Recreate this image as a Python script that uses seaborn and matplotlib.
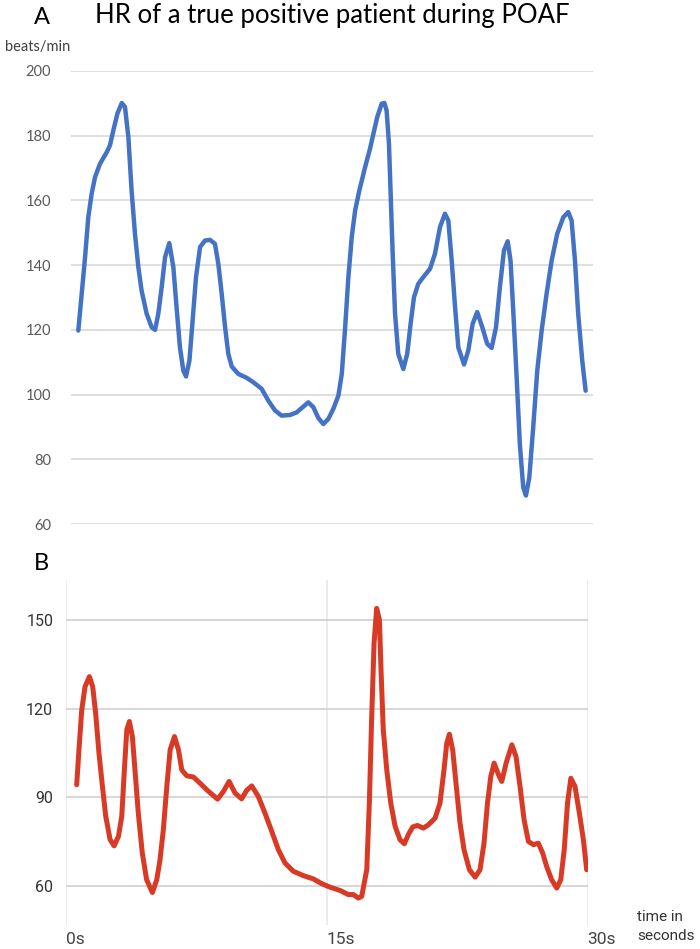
import numpy as np
import pandas as pd
import matplotlib
matplotlib.use("Agg")
import matplotlib.pyplot as plt
import seaborn as sns

# panel A: HR (seconds, beats/min)
a_time = [0.00, 0.20, 0.40, 0.59, 0.79, 0.99, 1.28, 1.68, 1.87, 2.07, 2.31, 2.57, 2.76,
          2.96, 3.15, 3.35, 3.55, 3.74, 4.04, 4.34, 4.54, 4.73, 4.93, 5.13, 5.38, 5.62,
          5.81, 6.01, 6.21, 6.37, 6.57, 6.76, 6.96, 7.20, 7.49, 7.79, 8.08, 8.28, 8.48,
          8.68, 8.87, 9.07, 9.46, 9.95, 10.35, 10.84, 11.24, 11.63, 12.02, 12.52, 12.91,
          13.31, 13.60, 13.90, 14.19, 14.49, 14.79, 15.08, 15.38, 15.58, 15.78, 15.97,
          16.17, 16.37, 16.62, 16.96, 17.25, 17.45, 17.68, 17.94, 18.10, 18.23, 18.37,
          18.47, 18.59, 18.73, 18.92, 19.22, 19.45, 19.65, 19.85, 20.10, 20.40, 20.80,
          21.09, 21.39, 21.68, 21.88, 22.08, 22.28, 22.47, 22.81, 23.06, 23.32, 23.59,
          23.89, 24.18, 24.44, 24.70, 24.93, 25.17, 25.39, 25.56, 25.72, 25.92, 26.11,
          26.31, 26.47, 26.67, 26.90, 27.14, 27.40, 27.69, 27.99, 28.32, 28.68, 28.97,
          29.17, 29.37, 29.56, 29.80, 30.00]
a_hr = [119.8, 131.1, 142.5, 154.8, 162.1, 167.2, 171.3, 174.9, 177.0, 181.6, 186.8, 190.1, 188.9,
        179.6, 163.1, 149.7, 139.4, 132.2, 125.0, 120.8, 120.0, 125.0, 133.2, 142.5, 146.8, 139.4,
        127.0, 114.6, 107.4, 105.6, 110.5, 122.9, 136.3, 145.6, 147.6, 147.8, 146.6, 140.4, 131.1,
        120.8, 112.6, 108.7, 106.4, 105.2, 103.8, 101.8, 98.1, 95.1, 93.5, 93.7, 94.5,
        96.3, 97.6, 96.1, 92.8, 90.9, 92.5, 95.6, 99.7, 106.4, 120.8, 136.3,
        148.7, 156.9, 163.1, 170.3, 176.0, 180.6, 185.8, 189.9, 190.1, 187.8, 177.5,
        162.1, 143.5, 125.0, 112.6, 107.9, 112.6, 121.9, 130.1, 134.2, 136.3, 138.9,
        143.5, 151.8, 155.9, 153.8, 141.4, 127.0, 114.6, 109.3, 113.6, 121.9, 125.5,
        120.8, 115.7, 114.4, 120.8, 133.2, 144.5, 147.4, 141.4, 125.9, 105.4, 84.7,
        71.3, 68.8, 74.4, 89.9, 107.4, 119.8, 131.1, 141.4, 149.7, 154.8, 156.4,
        153.8, 141.4, 125.0, 110.5, 101.2]

# panel B: HR
b_time = [0.63, 0.76, 0.92, 1.11, 1.36, 1.55, 1.72, 1.91, 2.11, 2.30, 2.55, 2.78, 3.03,
          3.22, 3.37, 3.51, 3.66, 3.83, 3.98, 4.17, 4.40, 4.65, 4.98, 5.23, 5.42, 5.61,
          5.81, 6.00, 6.25, 6.48, 6.67, 6.96, 7.34, 7.72, 8.10, 8.43, 8.73, 9.06, 9.39,
          9.73, 10.11, 10.40, 10.69, 11.07, 11.45, 11.84, 12.22, 12.60, 13.08, 13.66,
          14.23, 14.71, 15.19, 15.76, 16.24, 16.53, 16.82, 17.01, 17.30, 17.45, 17.58,
          17.72, 17.87, 18.03, 18.12, 18.25, 18.45, 18.68, 18.93, 19.21, 19.46, 19.69,
          19.94, 20.21, 20.55, 20.84, 21.23, 21.51, 21.74, 21.90, 22.05, 22.24, 22.43,
          22.66, 22.89, 23.20, 23.53, 23.81, 24.04, 24.24, 24.43, 24.62, 24.87, 25.06,
          25.31, 25.64, 25.88, 26.11, 26.34, 26.59, 26.88, 27.16, 27.41, 27.64, 27.93,
          28.22, 28.45, 28.65, 28.84, 29.03, 29.27, 29.52, 29.75, 29.94]
b_hr = [94.2, 106.0, 119.5, 127.4, 130.8, 127.4, 118.4, 104.9, 93.6, 83.5, 75.6, 73.5, 76.7,
        83.5, 99.2, 112.8, 115.6, 110.5, 99.2, 84.6, 71.1, 62.0, 57.7, 62.0, 68.8, 79.0,
        93.6, 106.0, 110.5, 106.0, 99.2, 97.2, 96.8, 94.7, 92.5, 90.8, 89.3, 91.9, 95.3,
        91.4, 89.4, 92.3, 93.8, 90.2, 84.6, 78.4, 72.2, 67.7, 64.9, 63.4,
        62.3, 60.7, 59.5, 58.4, 57.0, 57.0, 55.8, 56.4, 65.4, 88.0, 116.2,
        142.1, 153.9, 150.0, 133.1, 112.8, 99.2, 88.0, 80.1, 75.6, 74.2, 77.3,
        79.9, 80.4, 79.5, 80.6, 82.9, 88.0, 99.2, 108.3, 111.3, 106.0, 94.7,
        81.2, 72.2, 65.4, 62.9, 65.4, 74.4, 88.0, 97.0, 101.5, 97.6, 95.3,
        101.5, 107.7, 103.7, 93.6, 82.4, 75.0, 73.9, 74.4, 71.1, 66.5, 62.0,
        59.2, 62.0, 72.2, 88.0, 96.4, 93.6, 84.6, 75.6, 65.4]

a_yticks = [60, 80, 100, 120, 140, 160, 180, 200]
b_yticks = [60, 90, 120, 150]
b_xticks = [0, 15, 30]
b_xlabels = ["0s", "15s", "30s"]

sns.set_style("white")
plt.rcParams["font.family"] = ["Lato", "DejaVu Sans"]

fig = plt.figure(figsize=(7.0, 9.49), dpi=100)

# ---- panel A (Excel look)
ax1 = fig.add_axes([0.101, 0.4478, 0.746, 0.4774])
dfa = pd.DataFrame({"t": a_time, "hr": a_hr})
sns.lineplot(data=dfa, x="t", y="hr", ax=ax1, color="#4472C4", linewidth=3.2,
             estimator=None, solid_capstyle="round", solid_joinstyle="round")
ax1.set_xlim(-0.45, 30.43)
ax1.set_ylim(60, 200)
ax1.set_yticks(a_yticks)
ax1.set_xticks([])
ax1.yaxis.grid(True, color="#d9d9d9", linewidth=1.2)
ax1.set_axisbelow(True)
for s in ax1.spines.values():
    s.set_visible(False)
ax1.tick_params(axis="y", length=0, pad=14, labelsize=10.5, labelcolor="#595959")
ax1.set_xlabel("")
ax1.set_ylabel("")

fig.text(0.007, 0.951, "beats/min", fontsize=10.5, color="#404040", va="center", ha="left")
fig.text(0.049, 0.982, "A", fontsize=17, color="black", va="center", ha="left")
fig.text(0.475, 0.984, "HR of a true positive patient during POAF", fontsize=18.5,
         color="black", va="center", ha="center")

# ---- panel B (Sheets look)
ax2 = fig.add_axes([0.0939, 0.0253, 0.7457, 0.3635])
dfb = pd.DataFrame({"t": b_time, "hr": b_hr})
sns.lineplot(data=dfb, x="t", y="hr", ax=ax2, color="#D93A25", linewidth=3.6,
             estimator=None, solid_capstyle="round", solid_joinstyle="round")
ax2.set_xlim(0, 30)
ax2.set_ylim(46.7, 163.5)
ax2.set_yticks(b_yticks)
ax2.set_xticks(b_xticks)
ax2.set_xticklabels(b_xlabels)
ax2.yaxis.grid(True, color="#cccccc", linewidth=1.1)
ax2.xaxis.grid(True, color="#e6e6e6", linewidth=1.1)
ax2.set_axisbelow(True)
for s in ax2.spines.values():
    s.set_visible(False)
ax2.tick_params(axis="y", length=0, pad=9, labelsize=11.5, labelcolor="#333333")
ax2.tick_params(axis="x", length=0, pad=5, labelsize=12.5, labelcolor="#444444")
for lab in ax2.get_xticklabels():
    lab.set_horizontalalignment("left")
    lab.set_family(["Roboto", "DejaVu Sans"])
for lab in ax2.get_yticklabels():
    lab.set_family(["Roboto", "DejaVu Sans"])
ax2.set_xlabel("")
ax2.set_ylabel("")

fig.text(0.049, 0.406, "B", fontsize=17, color="black", va="center", ha="left")
fig.text(0.910, 0.0242, "time in\nseconds", fontsize=11, color="#333333", va="center",
         ha="left", linespacing=1.45, family=["Roboto", "DejaVu Sans"])

fig.savefig("out.png", dpi=100)
